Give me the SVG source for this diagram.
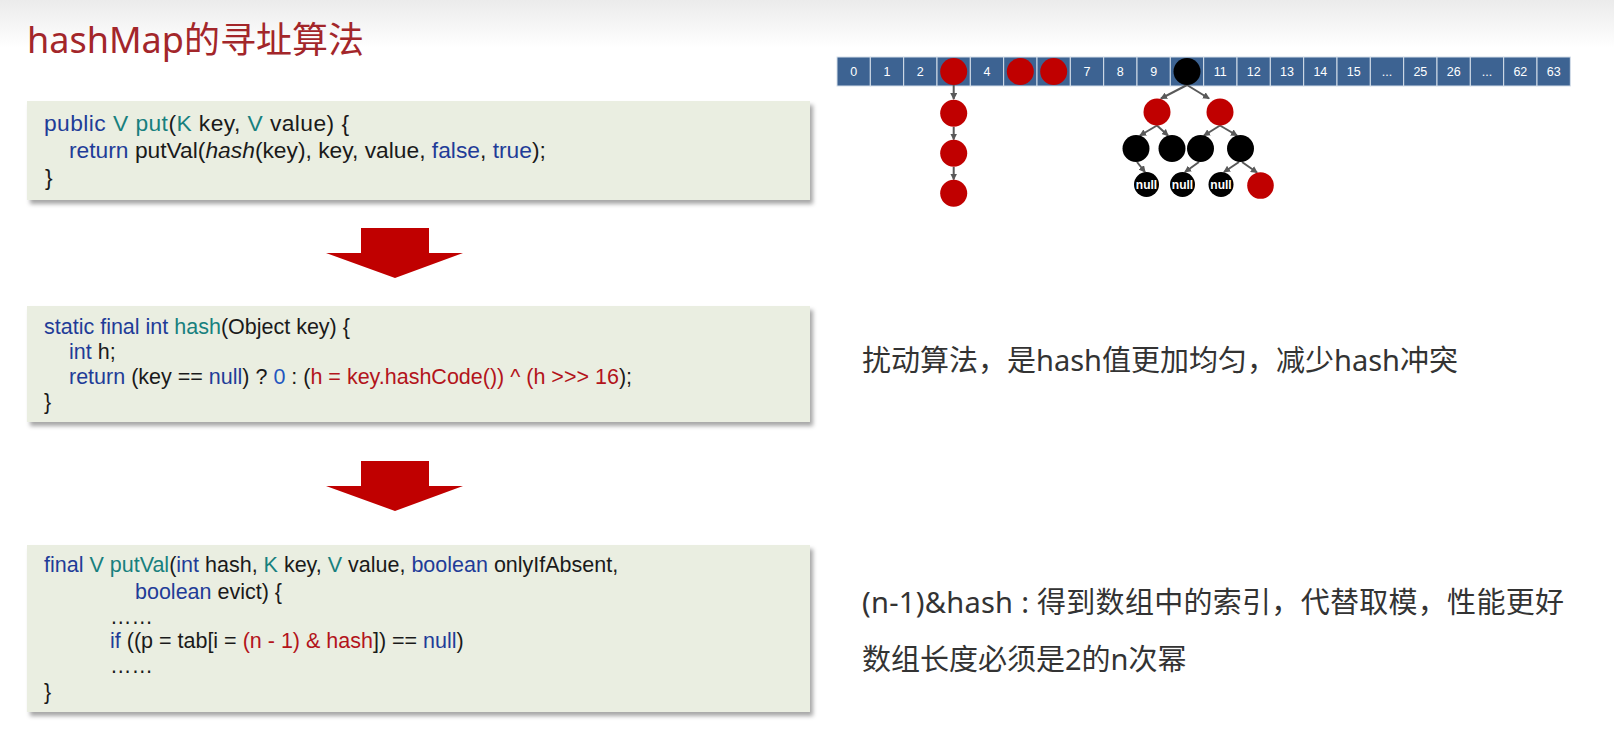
<svg xmlns="http://www.w3.org/2000/svg" width="1614" height="730" viewBox="0 0 1614 730">
<style>
.title{font-family:"Noto Sans","Noto Sans CJK SC",sans-serif;font-size:36px;fill:#A3262A}
.code{font-family:"Liberation Sans",Arial,sans-serif;font-size:21.5px;fill:#1a1a1a}
.code1{font-size:22.8px}
.kw{fill:#1F3C98}
.ty{fill:#17807E}
.rd{fill:#B3141B}
.nm{fill:#1F56C0}
.box{fill:#EAEEE1;filter:url(#sh)}
.note{font-family:"Noto Sans","Noto Sans CJK SC",sans-serif;font-size:29px;fill:#333}
.cell{fill:#3D6392;stroke:#D5DFEA;stroke-width:1}
.cl{font-family:"Liberation Sans",Arial,sans-serif;font-size:12.5px;fill:#fff;text-anchor:middle}
.red{fill:#C00000}
.blk{fill:#000}
.nul{font-family:"Liberation Sans",Arial,sans-serif;font-size:12px;font-weight:bold;fill:#fff;text-anchor:middle}
.ln{stroke:#595959;stroke-width:2;fill:none;marker-end:url(#ah)}
.big{fill:#C00000}
</style>
<defs>
<linearGradient id="topg" x1="0" y1="0" x2="0" y2="1">
<stop offset="0" stop-color="#ebebeb"/>
<stop offset="1" stop-color="#ffffff"/>
</linearGradient>
<filter id="sh" x="-5%" y="-10%" width="110%" height="130%">
<feDropShadow dx="3" dy="4" stdDeviation="2" flood-color="#000" flood-opacity="0.35"/>
</filter>
<marker id="ah" markerWidth="7" markerHeight="7" refX="6" refY="3.5" orient="auto" markerUnits="userSpaceOnUse">
<path d="M0,0 L7,3.5 L0,7 Z" fill="#595959"/>
</marker>
</defs>
<rect x="0" y="0" width="1614" height="730" fill="#fff"/>
<rect x="0" y="0" width="1614" height="48" fill="url(#topg)"/>

<g id="title"><text class="title" x="27" y="53">hashMap的寻址算法</text></g>

<g id="box-put">
<rect class="box" x="27" y="101" width="783" height="99"/>
<text class="code code1" x="44" y="131" textLength="305" lengthAdjust="spacing"><tspan class="kw">public</tspan> <tspan class="ty">V</tspan> <tspan class="ty">put</tspan>(<tspan class="ty">K</tspan> key, <tspan class="ty">V</tspan> value) {</text>
<text class="code code1" x="69" y="158"><tspan class="kw">return</tspan> putVal(<tspan font-style="italic">hash</tspan>(key), key, value, <tspan class="kw">false</tspan>, <tspan class="kw">true</tspan>);</text>
<text class="code code1" x="45" y="185">}</text>
</g>

<g id="box-hash">
<rect class="box" x="27" y="306" width="783" height="116"/>
<text class="code" x="44" y="334"><tspan class="kw">static final int</tspan> <tspan class="ty">hash</tspan>(Object key) {</text>
<text class="code" x="69" y="359"><tspan class="kw">int</tspan> h;</text>
<text class="code" x="69" y="384"><tspan class="kw">return</tspan> (key == <tspan class="kw">null</tspan>) ? <tspan class="nm">0</tspan> : (<tspan class="rd">h = key.hashCode()) ^ (h &gt;&gt;&gt; 16</tspan>);</text>
<text class="code" x="44" y="409">}</text>
</g>

<g id="box-putval">
<rect class="box" x="27" y="545" width="783" height="167"/>
<text class="code" x="44" y="572"><tspan class="kw">final</tspan> <tspan class="ty">V</tspan> <tspan class="ty">putVal</tspan>(<tspan class="kw">int</tspan> hash, <tspan class="ty">K</tspan> key, <tspan class="ty">V</tspan> value, <tspan class="kw">boolean</tspan> onlyIfAbsent,</text>
<text class="code" x="135" y="599"><tspan class="kw">boolean</tspan> evict) {</text>
<text class="code" x="110" y="624">……</text>
<text class="code" x="110" y="648"><tspan class="kw">if</tspan> ((p = tab[i = <tspan class="rd">(n - 1) &amp; hash</tspan>]) == <tspan class="kw">null</tspan>)</text>
<text class="code" x="110" y="673">……</text>
<text class="code" x="44" y="699">}</text>
</g>

<g id="note-hash"><text class="note" x="862" y="371">扰动算法，是hash值更加均匀，减少hash冲突</text></g>
<g id="note-index"><text class="note" x="862" y="613" textLength="702" lengthAdjust="spacing">(n-1)&amp;hash : 得到数组中的索引，代替取模，性能更好</text></g>
<g id="note-length"><text class="note" x="862" y="670">数组长度必须是2的n次幂</text></g>

<g id="array">
<rect class="cell" x="837" y="57" width="33.33" height="29"/>
<rect class="cell" x="870.33" y="57" width="33.33" height="29"/>
<rect class="cell" x="903.67" y="57" width="33.33" height="29"/>
<rect class="cell" x="937" y="57" width="33.33" height="29"/>
<rect class="cell" x="970.33" y="57" width="33.33" height="29"/>
<rect class="cell" x="1003.67" y="57" width="33.33" height="29"/>
<rect class="cell" x="1037" y="57" width="33.33" height="29"/>
<rect class="cell" x="1070.33" y="57" width="33.33" height="29"/>
<rect class="cell" x="1103.67" y="57" width="33.33" height="29"/>
<rect class="cell" x="1137" y="57" width="33.33" height="29"/>
<rect class="cell" x="1170.33" y="57" width="33.33" height="29"/>
<rect class="cell" x="1203.67" y="57" width="33.33" height="29"/>
<rect class="cell" x="1237" y="57" width="33.33" height="29"/>
<rect class="cell" x="1270.33" y="57" width="33.33" height="29"/>
<rect class="cell" x="1303.67" y="57" width="33.33" height="29"/>
<rect class="cell" x="1337" y="57" width="33.33" height="29"/>
<rect class="cell" x="1370.33" y="57" width="33.33" height="29"/>
<rect class="cell" x="1403.67" y="57" width="33.33" height="29"/>
<rect class="cell" x="1437" y="57" width="33.33" height="29"/>
<rect class="cell" x="1470.33" y="57" width="33.33" height="29"/>
<rect class="cell" x="1503.67" y="57" width="33.33" height="29"/>
<rect class="cell" x="1537" y="57" width="33.33" height="29"/>
<text class="cl" x="853.67" y="76">0</text>
<text class="cl" x="887" y="76">1</text>
<text class="cl" x="920.33" y="76">2</text>
<text class="cl" x="987" y="76">4</text>
<text class="cl" x="1087" y="76">7</text>
<text class="cl" x="1120.33" y="76">8</text>
<text class="cl" x="1153.67" y="76">9</text>
<text class="cl" x="1220.33" y="76">11</text>
<text class="cl" x="1253.67" y="76">12</text>
<text class="cl" x="1287" y="76">13</text>
<text class="cl" x="1320.33" y="76">14</text>
<text class="cl" x="1353.67" y="76">15</text>
<text class="cl" x="1387" y="76">...</text>
<text class="cl" x="1420.33" y="76">25</text>
<text class="cl" x="1453.67" y="76">26</text>
<text class="cl" x="1487" y="76">...</text>
<text class="cl" x="1520.33" y="76">62</text>
<text class="cl" x="1553.67" y="76">63</text>
</g>

<g id="connectors">
<path class="big" d="M361,228 H429 V253 H463 L395,278 L326,253 H361 Z"/>
<path class="big" d="M361,461 H429 V486 H463 L395,511 L326,486 H361 Z"/>
<line class="ln" x1="953.7" y1="85" x2="953.7" y2="99"/>
<line class="ln" x1="953.7" y1="127" x2="953.7" y2="139.5"/>
<line class="ln" x1="953.7" y1="167" x2="953.7" y2="179.5"/>
<line class="ln" x1="1187" y1="85" x2="1161" y2="98.5"/>
<line class="ln" x1="1187" y1="85" x2="1209" y2="98.5"/>
<line class="ln" x1="1157" y1="125.5" x2="1140" y2="135.5"/>
<line class="ln" x1="1157" y1="125.5" x2="1168" y2="135.5"/>
<line class="ln" x1="1220" y1="125.5" x2="1204" y2="135.5"/>
<line class="ln" x1="1220" y1="125.5" x2="1237" y2="135.5"/>
<line class="ln" x1="1137" y1="162" x2="1145" y2="172"/>
<line class="ln" x1="1199" y1="162" x2="1185" y2="172"/>
<line class="ln" x1="1239" y1="162" x2="1224" y2="172"/>
<line class="ln" x1="1242" y1="162" x2="1257" y2="172.5"/>
</g>

<g id="chain">
<circle class="red" cx="953.7" cy="71.5" r="13.5"/>
<circle class="red" cx="953.7" cy="113.3" r="13.5"/>
<circle class="red" cx="953.7" cy="153.3" r="13.5"/>
<circle class="red" cx="953.7" cy="193.3" r="13.5"/>
</g>
<g id="slot5"><circle class="red" cx="1020.3" cy="71.5" r="13.5"/></g>
<g id="slot6"><circle class="red" cx="1053.7" cy="71.5" r="13.5"/></g>

<g id="tree">
<circle class="blk" cx="1187" cy="71.5" r="13.5"/>
<circle class="red" cx="1157" cy="112" r="13.5"/>
<circle class="red" cx="1220" cy="112" r="13.5"/>
<circle class="blk" cx="1136" cy="148.5" r="13.5"/>
<circle class="blk" cx="1172" cy="148.5" r="13.5"/>
<circle class="blk" cx="1200.5" cy="148.5" r="13.5"/>
<circle class="blk" cx="1240.5" cy="148.5" r="13.5"/>
<circle class="blk" cx="1146.5" cy="184.5" r="12.5"/>
<text class="nul" x="1146.5" y="188.5">null</text>
<circle class="blk" cx="1182.5" cy="184.5" r="12.5"/>
<text class="nul" x="1182.5" y="188.5">null</text>
<circle class="blk" cx="1221" cy="184.5" r="12.5"/>
<text class="nul" x="1221" y="188.5">null</text>
<circle class="red" cx="1260.5" cy="185.5" r="13.3"/>
</g>
</svg>
